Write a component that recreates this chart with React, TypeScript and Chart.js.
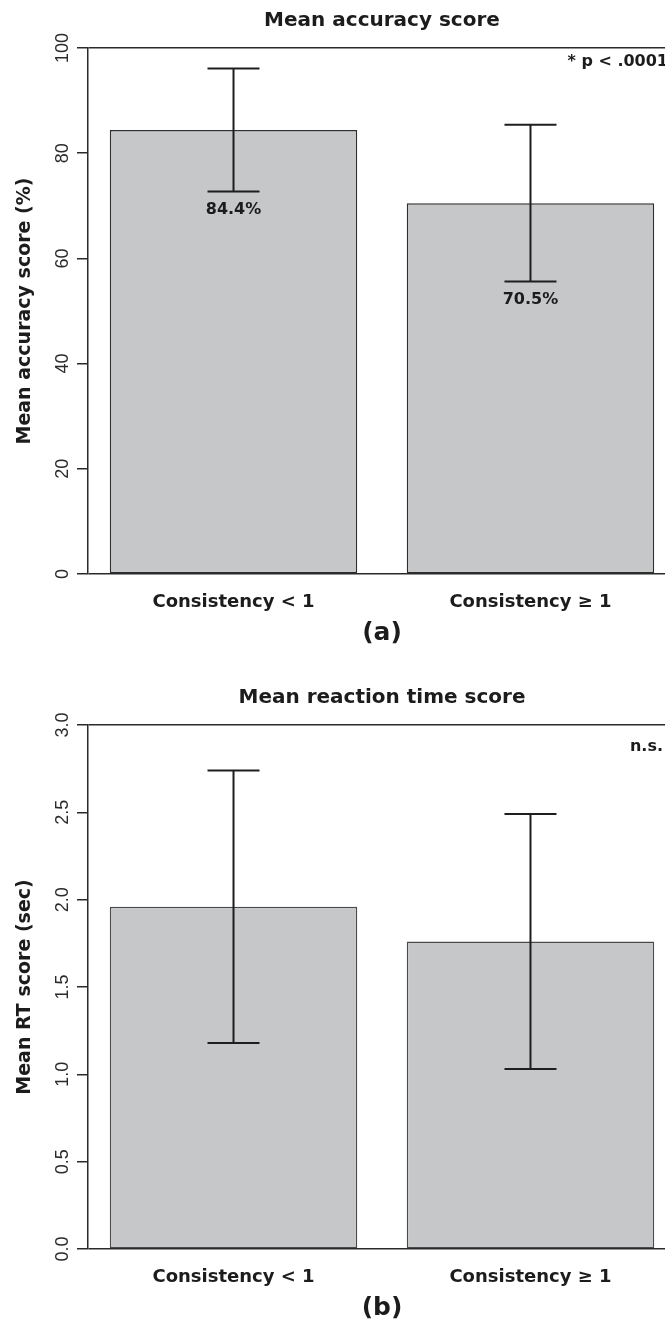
import React, { useEffect, useRef } from "react";
import { Chart, registerables } from "chart.js";

Chart.register(...registerables);

// ---------- data ----------
const CATEGORIES = ["Consistency < 1", "Consistency ≥ 1"];

const ACC_TITLE = "Mean accuracy score";
const ACC_Y_TITLE = "Mean accuracy score (%)";
const ACC_MEANS = [84.4, 70.5];
const ACC_ERR_LOW = [72.7, 55.6];
const ACC_ERR_HIGH = [96.1, 85.4];
const ACC_VALUE_LABELS = ["84.4%", "70.5%"];
const ACC_Y_TICKS = [0, 20, 40, 60, 80, 100];
const ACC_Y_TICK_LABELS = ["0", "20", "40", "60", "80", "100"];
const ACC_NOTE = "* p < .0001";
const ACC_PANEL = "(a)";

const RT_TITLE = "Mean reaction time score";
const RT_Y_TITLE = "Mean RT score (sec)";
const RT_MEANS = [1.96, 1.76];
const RT_ERR_LOW = [1.18, 1.03];
const RT_ERR_HIGH = [2.74, 2.49];
const RT_VALUE_LABELS: string[] = [];
const RT_Y_TICKS = [0, 0.5, 1.0, 1.5, 2.0, 2.5, 3.0];
const RT_Y_TICK_LABELS = ["0.0", "0.5", "1.0", "1.5", "2.0", "2.5", "3.0"];
const RT_NOTE = "n.s.";
const RT_PANEL = "(b)";

// R barplot geometry (bar width 1, space 0.2, 4% axis expansion)
const BAR_SPACE = 0.2;
const barPos = (i: number) => BAR_SPACE + 0.5 + i * (1 + BAR_SPACE);
const X_MIN = 0.112;
const X_MAX = 2.488;

const BOLD = "'DejaVu Sans', 'Noto Sans', sans-serif";
const REG = "'Liberation Sans', Arial, sans-serif";
const INK = "#1c1c1c";

type Spec = {
  title: string;
  yTitle: string;
  means: number[];
  errLow: number[];
  errHigh: number[];
  valueLabels: string[];
  yTicks: number[];
  yTickLabels: string[];
  note: string;
  noteRight: number;
  noteDy: number;
  panel: string;
  canvasH: number;
  plotTop: number;
  plotBottom: number;
  barBorder: string;
};

const CANVAS_W = 700;
const PLOT_LEFT = 88;
const PLOT_RIGHT = 676;

function Panel({ spec }: { spec: Spec }) {
  const ref = useRef<HTMLCanvasElement>(null);
  useEffect(() => {
    if (!ref.current) return;
    const textPlugin = {
      id: "rtext",
      afterDatasetsDraw(chart: any) {
        const ctx = chart.ctx;
        const ys = chart.scales.y;
        const meta = chart.getDatasetMeta(0);
        ctx.save();
        ctx.strokeStyle = "#1e1e1e";
        ctx.lineWidth = 2;
        spec.means.forEach((_, i) => {
          const x = meta.data[i].x;
          const yl = ys.getPixelForValue(spec.errLow[i]);
          const yh = ys.getPixelForValue(spec.errHigh[i]);
          ctx.beginPath();
          ctx.moveTo(x, yl);
          ctx.lineTo(x, yh);
          ctx.moveTo(x - 26, yl);
          ctx.lineTo(x + 26, yl);
          ctx.moveTo(x - 26, yh);
          ctx.lineTo(x + 26, yh);
          ctx.stroke();
          if (spec.valueLabels[i]) {
            ctx.fillStyle = INK;
            ctx.font = `bold 16px ${BOLD}`;
            ctx.textAlign = "center";
            ctx.textBaseline = "alphabetic";
            ctx.fillText(spec.valueLabels[i], x, yl + 22);
          }
        });
        ctx.restore();
      },
      afterDraw(chart: any) {
        const ctx = chart.ctx;
        const ca = chart.chartArea;
        const ys = chart.scales.y;
        const cx = (ca.left + ca.right) / 2;
        const cy = (ca.top + ca.bottom) / 2;
        ctx.save();
        ctx.fillStyle = INK;
        ctx.textAlign = "center";
        ctx.textBaseline = "alphabetic";
        ctx.font = `bold 20px ${BOLD}`;
        ctx.fillText(spec.title, cx, ca.top - 22);
        ctx.font = `bold 25px ${BOLD}`;
        ctx.fillText(spec.panel, cx, ca.bottom + 66);
        ctx.font = `bold 16px ${BOLD}`;
        ctx.textAlign = "right";
        ctx.fillText(spec.note, spec.noteRight, ca.top + spec.noteDy);
        ctx.save();
        ctx.translate(30, cy);
        ctx.rotate(-Math.PI / 2);
        ctx.textAlign = "center";
        ctx.font = `bold 19px ${BOLD}`;
        ctx.fillText(spec.yTitle, 0, 0);
        ctx.restore();
        ctx.fillStyle = "#2a2a2a";
        ctx.font = `18px ${REG}`;
        spec.yTicks.forEach((v, i) => {
          const y = ys.getPixelForValue(v);
          ctx.save();
          ctx.translate(68, y);
          ctx.rotate(-Math.PI / 2);
          ctx.textAlign = "center";
          ctx.fillText(spec.yTickLabels[i], 0, 0);
          ctx.restore();
        });
        ctx.restore();
      },
    };

    const yMin = spec.yTicks[0];
    const yMax = spec.yTicks[spec.yTicks.length - 1];

    const chart = new Chart(ref.current, {
      type: "bar",
      data: {
        datasets: [
          {
            data: spec.means.map((v, i) => ({ x: barPos(i), y: v })),
            backgroundColor: "#c6c7c9",
            borderColor: spec.barBorder,
            borderWidth: 1.5,
            borderSkipped: false,
            categoryPercentage: 1,
            barPercentage: 1 / (1 + BAR_SPACE),
          } as any,
        ],
      },
      options: {
        responsive: false,
        maintainAspectRatio: false,
        animation: false,
        layout: {
          padding: { left: 0, top: spec.plotTop, right: CANVAS_W - PLOT_RIGHT, bottom: 0 },
        },
        plugins: {
          legend: { display: false },
          tooltip: { enabled: false },
          title: { display: false },
        },
        scales: {
          x: {
            type: "linear",
            min: X_MIN,
            max: X_MAX,
            offset: false,
            grid: { display: false, offset: false },
            border: { display: false },
            afterBuildTicks: (s: any) => {
              s.ticks = CATEGORIES.map((_, i) => ({ value: barPos(i) }));
            },
            afterFit: (s: any) => {
              s.height = spec.canvasH - spec.plotBottom;
            },
            ticks: {
              autoSkip: false,
              maxRotation: 0,
              minRotation: 0,
              padding: 10,
              color: INK,
              font: { family: BOLD, size: 18, weight: "bold" },
              callback: (_v: any, i: number) => CATEGORIES[i],
            },
          },
          y: {
            min: yMin,
            max: yMax,
            afterBuildTicks: (s: any) => {
              s.ticks = spec.yTicks.map((v) => ({ value: v }));
            },
            afterFit: (s: any) => {
              s.width = PLOT_LEFT;
            },
            ticks: { display: false },
            border: { display: true, color: "#2a2a2a", width: 1.5 },
            grid: {
              drawTicks: true,
              tickLength: 11,
              tickColor: "#2a2a2a",
              lineWidth: 1.5,
              color: (c: any) =>
                c.tick && (c.tick.value === yMin || c.tick.value === yMax) ? "#2a2a2a" : "rgba(0,0,0,0)",
            },
          },
        },
      } as any,
      plugins: [textPlugin],
    });
    return () => chart.destroy();
  }, [spec]);
  return (
    <canvas
      ref={ref}
      width={CANVAS_W}
      height={spec.canvasH}
      style={{ display: "block", width: CANVAS_W, height: spec.canvasH }}
    />
  );
}

const ACC_SPEC: Spec = {
  title: ACC_TITLE,
  yTitle: ACC_Y_TITLE,
  means: ACC_MEANS,
  errLow: ACC_ERR_LOW,
  errHigh: ACC_ERR_HIGH,
  valueLabels: ACC_VALUE_LABELS,
  yTicks: ACC_Y_TICKS,
  yTickLabels: ACC_Y_TICK_LABELS,
  note: ACC_NOTE,
  noteRight: 668,
  noteDy: 18,
  panel: ACC_PANEL,
  canvasH: 660,
  plotTop: 48,
  plotBottom: 574,
  barBorder: "#2e2e2e",
};

const RT_SPEC: Spec = {
  title: RT_TITLE,
  yTitle: RT_Y_TITLE,
  means: RT_MEANS,
  errLow: RT_ERR_LOW,
  errHigh: RT_ERR_HIGH,
  valueLabels: RT_VALUE_LABELS,
  yTicks: RT_Y_TICKS,
  yTickLabels: RT_Y_TICK_LABELS,
  note: RT_NOTE,
  noteRight: 663,
  noteDy: 26,
  panel: RT_PANEL,
  canvasH: 659,
  plotTop: 65,
  plotBottom: 589,
  barBorder: "#4a4a4a",
};

export default function App() {
  useEffect(() => {
    document.body.style.margin = "0";
  }, []);
  return (
    <div style={{ position: "relative", width: 665, height: 1319, overflow: "hidden", background: "#fff" }}>
      <div style={{ position: "absolute", left: 0, top: 0 }}>
        <Panel spec={ACC_SPEC} />
      </div>
      <div style={{ position: "absolute", left: 0, top: 660 }}>
        <Panel spec={RT_SPEC} />
      </div>
    </div>
  );
}
